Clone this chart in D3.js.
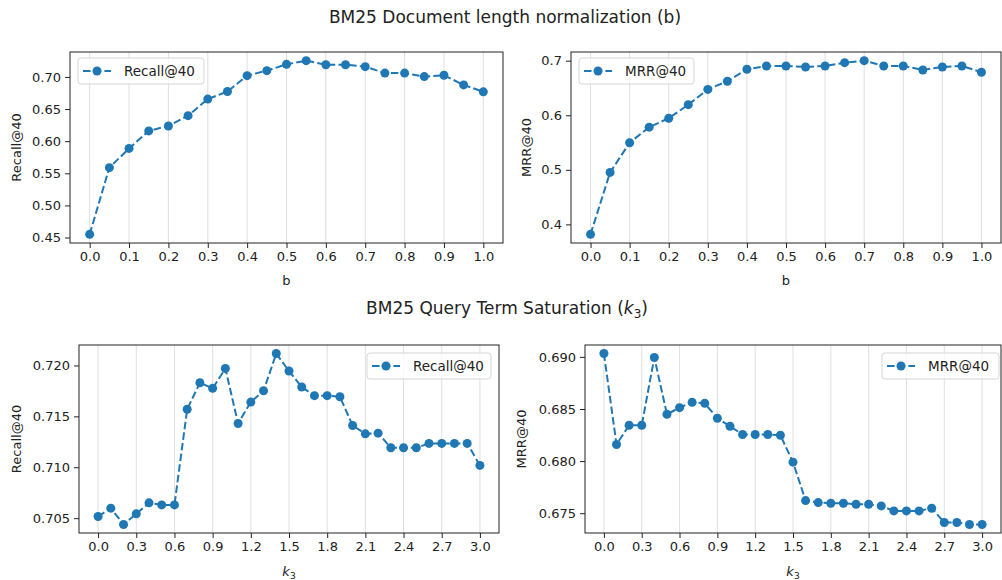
<!DOCTYPE html>
<html>
<head>
<meta charset="utf-8">
<script src="https://cdn.jsdelivr.net/npm/d3@7"></script>
<style>
  body { margin: 0; background: #fff; }
  svg { font-family: "DejaVu Sans", sans-serif; }
</style>
</head>
<body>
<svg width="1002" height="580"></svg>
<script>
// b sweep: 0.0 .. 1.0 step 0.05
var bValues = [0.0, 0.05, 0.1, 0.15, 0.2, 0.25, 0.3, 0.35, 0.4, 0.45, 0.5, 0.55, 0.6, 0.65, 0.7, 0.75, 0.8, 0.85, 0.9, 0.95, 1.0];
var recallB = [0.455, 0.5588, 0.5887, 0.616, 0.6237, 0.6397, 0.6655, 0.6773, 0.702, 0.7098, 0.7196, 0.7253, 0.719, 0.719, 0.716, 0.706, 0.706, 0.7005, 0.7026, 0.6876, 0.6768];
var mrrB = [0.3818, 0.4952, 0.5497, 0.5782, 0.5945, 0.6194, 0.6473, 0.6624, 0.6842, 0.6903, 0.6903, 0.6885, 0.6903, 0.6964, 0.7, 0.6903, 0.6903, 0.683, 0.6885, 0.6903, 0.6788];

// k3 sweep: 0.0 .. 3.0 step 0.1
var k3Values = [0.0, 0.1, 0.2, 0.3, 0.4, 0.5, 0.6, 0.7, 0.8, 0.9, 1.0, 1.1, 1.2, 1.3, 1.4, 1.5, 1.6, 1.7, 1.8, 1.9, 2.0, 2.1, 2.2, 2.3, 2.4, 2.5, 2.6, 2.7, 2.8, 2.9, 3.0];
var recallK3 = [0.70516, 0.70598, 0.70438, 0.70542, 0.7065, 0.7063, 0.7063, 0.7157, 0.7183, 0.71775, 0.7197, 0.7143, 0.7164, 0.71752, 0.72117, 0.71945, 0.71788, 0.71703, 0.71703, 0.71693, 0.7141, 0.71328, 0.71335, 0.71191, 0.71191, 0.71191, 0.71234, 0.71234, 0.71234, 0.71234, 0.71018];
var mrrK3 = [0.69032, 0.68159, 0.68344, 0.68344, 0.68994, 0.68449, 0.68513, 0.68564, 0.68554, 0.68411, 0.68334, 0.68255, 0.68255, 0.68255, 0.68248, 0.6799, 0.67621, 0.67602, 0.67596, 0.67596, 0.67586, 0.67586, 0.6757, 0.67522, 0.67522, 0.67522, 0.67548, 0.67411, 0.67411, 0.67392, 0.67392];

var bTicks = [0, 0.1, 0.2, 0.3, 0.4, 0.5, 0.6, 0.7, 0.8, 0.9, 1.0];
var k3Ticks = [0, 0.3, 0.6, 0.9, 1.2, 1.5, 1.8, 2.1, 2.4, 2.7, 3.0];
var recallBTicks = [0.45, 0.50, 0.55, 0.60, 0.65, 0.70];
var mrrBTicks = [0.4, 0.5, 0.6, 0.7];
var recallK3Ticks = [0.705, 0.710, 0.715, 0.720];
var mrrK3Ticks = [0.675, 0.680, 0.685, 0.690];

var titles = ["BM25 Document length normalization (b)", "BM25 Query Term Saturation"];

let svg = d3.select("svg");
var color = "#1f77b4";

svg.append("text")
    .attr("x", 505).attr("y", 23)
    .attr("text-anchor", "middle")
    .attr("font-size", 17).attr("fill", "#222")
    .text(titles[0]);

var t2 = svg.append("text")
    .attr("x", 507).attr("y", 314)
    .attr("text-anchor", "middle")
    .attr("font-size", 17).attr("fill", "#222");
t2.append("tspan").text(titles[1] + " (");
t2.append("tspan").attr("font-style", "italic").text("k");
t2.append("tspan").attr("font-size", 12).attr("dy", 4).text("3");
t2.append("tspan").attr("dy", -4).text(")");

function panel(opt) {
    var box = opt.box;
    var g = svg.append("g");
    var xs = opt.xs, ys = opt.ys;
    var xr = d3.extent(xs), yr = d3.extent(ys);
    var xpad = (xr[1] - xr[0]) * 0.05, ypad = (yr[1] - yr[0]) * 0.05;

    var x = d3.scaleLinear()
        .domain([xr[0] - xpad, xr[1] + xpad])
        .range([box.left, box.right]);
    var y = d3.scaleLinear()
        .domain([yr[0] - ypad, yr[1] + ypad])
        .range([box.bottom, box.top]);

    // vertical grid
    g.append("g").selectAll("line")
        .data(opt.xticks).enter().append("line")
        .attr("x1", d => x(d)).attr("x2", d => x(d))
        .attr("y1", box.top).attr("y2", box.bottom)
        .attr("stroke", "#b0b0b0").attr("stroke-opacity", 0.4).attr("stroke-width", 1);

    var xAxis = g.append("g")
        .attr("transform", "translate(0," + box.bottom + ")")
        .call(d3.axisBottom(x).tickValues(opt.xticks).tickFormat(d3.format(".1f")).tickSize(5).tickPadding(4));
    var yAxis = g.append("g")
        .attr("transform", "translate(" + box.left + ",0)")
        .call(d3.axisLeft(y).tickValues(opt.yticks).tickFormat(d3.format(opt.yfmt)).tickSize(5).tickPadding(4));
    [xAxis, yAxis].forEach(function(a) {
        a.select(".domain").remove();
        a.selectAll("text").attr("font-size", 13).attr("fill", "#222").attr("font-family", "DejaVu Sans");
        a.selectAll("line").attr("stroke", "#222");
    });

    g.append("rect")
        .attr("x", box.left).attr("y", box.top)
        .attr("width", box.right - box.left).attr("height", box.bottom - box.top)
        .attr("fill", "none").attr("stroke", "#222").attr("stroke-width", 1);

    var pts = xs.map((d, i) => [d, ys[i]]);
    var line = d3.line().x(d => x(d[0])).y(d => y(d[1]));
    g.append("path")
        .datum(pts)
        .attr("d", line)
        .attr("fill", "none").attr("stroke", color)
        .attr("stroke-width", 2).attr("stroke-dasharray", "7.5,3.2");
    g.append("g").selectAll("circle")
        .data(pts).enter().append("circle")
        .attr("cx", d => x(d[0])).attr("cy", d => y(d[1]))
        .attr("r", 4.5).attr("fill", color);

    // axis labels
    g.append("text")
        .attr("transform", "translate(" + opt.ylabelX + "," + (box.top + box.bottom) / 2 + ") rotate(-90)")
        .attr("text-anchor", "middle").attr("dy", "0.35em")
        .attr("font-size", 13).attr("fill", "#222")
        .text(opt.ylabel);
    var xl = g.append("text")
        .attr("x", (box.left + box.right) / 2).attr("y", opt.xlabelY)
        .attr("text-anchor", "middle")
        .attr("font-size", 13).attr("fill", "#222");
    if (opt.xlabel === "k3") {
        xl.append("tspan").attr("font-style", "italic").text("k");
        xl.append("tspan").attr("font-size", 9).attr("dy", 3).text("3");
    } else {
        xl.text(opt.xlabel);
    }

    // legend
    var L = opt.legend;
    var lg = g.append("g").attr("transform", "translate(" + L.x + "," + L.y + ")");
    lg.append("rect")
        .attr("width", L.w).attr("height", 26).attr("rx", 3)
        .attr("fill", "#fff").attr("fill-opacity", 0.8)
        .attr("stroke", "#d6d6d6");
    lg.append("line")
        .attr("x1", 5).attr("x2", 33).attr("y1", 13).attr("y2", 13)
        .attr("stroke", color).attr("stroke-width", 2).attr("stroke-dasharray", "7.5,3.2");
    lg.append("circle").attr("cx", 19).attr("cy", 13).attr("r", 4.5).attr("fill", color);
    lg.append("text")
        .attr("x", 46).attr("y", 13).attr("dy", "0.35em")
        .attr("font-size", 13.5).attr("fill", "#222")
        .text(opt.ylabel);
}

panel({box: {left: 70, right: 503, top: 52, bottom: 243}, xs: bValues, ys: recallB,
    xticks: bTicks, yticks: recallBTicks, yfmt: ".2f", ylabel: "Recall@40", xlabel: "b",
    ylabelX: 16, xlabelY: 285, legend: {x: 78, y: 58, w: 126}});
panel({box: {left: 571, right: 1001, top: 52, bottom: 243}, xs: bValues, ys: mrrB,
    xticks: bTicks, yticks: mrrBTicks, yfmt: ".1f", ylabel: "MRR@40", xlabel: "b",
    ylabelX: 526, xlabelY: 285, legend: {x: 579, y: 58, w: 115}});
panel({box: {left: 79, right: 499, top: 345, bottom: 533}, xs: k3Values, ys: recallK3,
    xticks: k3Ticks, yticks: recallK3Ticks, yfmt: ".3f", ylabel: "Recall@40", xlabel: "k3",
    ylabelX: 16, xlabelY: 576, legend: {x: 367, y: 353, w: 124}});
panel({box: {left: 585, right: 1001, top: 345, bottom: 533}, xs: k3Values, ys: mrrK3,
    xticks: k3Ticks, yticks: mrrK3Ticks, yfmt: ".3f", ylabel: "MRR@40", xlabel: "k3",
    ylabelX: 521, xlabelY: 576, legend: {x: 882, y: 353, w: 117}});
</script>
</body>
</html>
